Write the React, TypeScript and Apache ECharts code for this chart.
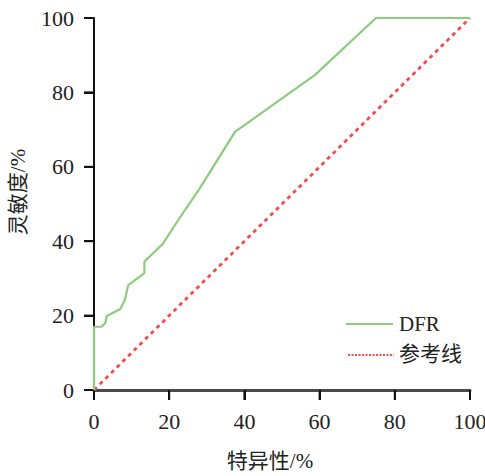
import React, { useEffect, useRef } from "react";
import * as echarts from "echarts";

const xTicks = [0, 20, 40, 60, 80, 100];
const yTicks = [0, 20, 40, 60, 80, 100];
const dfrSpecificity = [0, 0, 2, 3, 3.4, 7, 8.2, 9.1, 13.4, 13.4, 18.4, 22.4, 28, 37.5, 58.8, 75, 100];
const dfrSensitivity = [0, 17, 17, 18, 19.9, 21.8, 24.2, 28.2, 31.4, 34.5, 39.4, 45.7, 54, 69.4, 84.7, 100, 100];
const refX = [0, 100];
const refY = [0, 100];
const seriesNames = ["DFR", "参考线"];
const xName = "特异性/%";
const yName = "灵敏度/%";

const FONT = "'Liberation Serif', 'DejaVu Serif', 'Noto Sans CJK SC', serif";
const GREEN = "#8ccc7c";
const RED = "#f24e4e";
const TICK_LEN = 10;

export default function App() {
  const ref = useRef<HTMLDivElement>(null);
  useEffect(() => {
    if (!ref.current) return;
    const chart = echarts.init(ref.current, undefined, { renderer: "svg" });
    const legendEls: any[] = [
      { type: "line", shape: { x1: 346, y1: 324, x2: 393, y2: 324 }, style: { stroke: GREEN, lineWidth: 2.2 } },
      { type: "text", x: 399, y: 324, style: { text: seriesNames[0], font: `21px ${FONT}`, fill: "#222", verticalAlign: "middle" } },
      { type: "line", shape: { x1: 348, y1: 355, x2: 394, y2: 355 }, style: { stroke: RED, lineWidth: 1.8, lineDash: [2, 1.5] } },
      { type: "text", x: 399, y: 354, style: { text: seriesNames[1], font: `21px ${FONT}`, fill: "#222", verticalAlign: "middle" } },
    ];
    chart.setOption({
      animation: false,
      backgroundColor: "#fff",
      grid: { left: 94, right: 15, top: 18, bottom: 86, outerBoundsMode: "none" },
      graphic: legendEls,
      xAxis: {
        type: "value",
        min: xTicks[0],
        max: xTicks[xTicks.length - 1],
        interval: 20,
        splitLine: { show: false },
        axisTick: { show: true, length: TICK_LEN, lineStyle: { color: "#111", width: 2 } },
        axisLabel: { fontFamily: FONT, fontSize: 22, color: "#222", margin: 20 },
        name: xName,
        nameLocation: "middle",
        nameGap: 60,
        nameTextStyle: { fontFamily: FONT, fontSize: 21, color: "#222", padding: [0, 24, 0, 0] },
        axisLine: { show: true, onZero: false, lineStyle: { color: "#4a4a4a", width: 3 } },
      },
      yAxis: {
        type: "value",
        min: yTicks[0],
        max: yTicks[yTicks.length - 1],
        interval: 20,
        splitLine: { show: false },
        axisTick: { show: true, length: TICK_LEN, lineStyle: { color: "#111", width: 2 } },
        axisLabel: { fontFamily: FONT, fontSize: 22, color: "#222", margin: 20 },
        name: yName,
        nameLocation: "middle",
        nameGap: 66,
        nameTextStyle: { fontFamily: FONT, fontSize: 21, color: "#222", padding: [0, 0, 0, 24] },
        axisLine: { show: true, onZero: false, lineStyle: { color: "#111", width: 2 } },
      },
      series: [
        {
          name: seriesNames[0],
          type: "line",
          symbol: "none",
          data: dfrSpecificity.map((x, i) => [x, dfrSensitivity[i]]),
          lineStyle: { color: GREEN, width: 2.2 },
          itemStyle: { color: GREEN },
          z: 3,
        },
        {
          name: seriesNames[1],
          type: "line",
          symbol: "none",
          data: refX.map((x, i) => [x, refY[i]]),
          lineStyle: { color: RED, width: 2.8, type: [4, 4] },
          itemStyle: { color: RED },
          z: 2,
        },
      ],
    });
    // Tick marks positioned through the chart's own scales.
    try {
      const tickEls: any[] = [];
      xTicks.forEach((v) => {
        const p = chart.convertToPixel({ seriesIndex: 0 }, [v, yTicks[0]]) as any;
        if (p && isFinite(p[0]) && isFinite(p[1])) {
          tickEls.push({
            type: "line",
            shape: { x1: p[0], y1: p[1], x2: p[0], y2: p[1] + TICK_LEN },
            style: { stroke: "#111", lineWidth: 2 },
          });
        }
      });
      yTicks.forEach((v) => {
        const p = chart.convertToPixel({ seriesIndex: 0 }, [xTicks[0], v]) as any;
        if (p && isFinite(p[0]) && isFinite(p[1])) {
          tickEls.push({
            type: "line",
            shape: { x1: p[0] - TICK_LEN, y1: p[1], x2: p[0], y2: p[1] },
            style: { stroke: "#111", lineWidth: 2 },
          });
        }
      });
      if (tickEls.length) chart.setOption({ graphic: [...legendEls, ...tickEls] });
    } catch (e) {
      // keep chart without extra tick marks
    }
    return () => chart.dispose();
  }, []);
  return <div ref={ref} style={{ position: "absolute", left: 0, top: 0, width: 485, height: 476 }} />;
}
